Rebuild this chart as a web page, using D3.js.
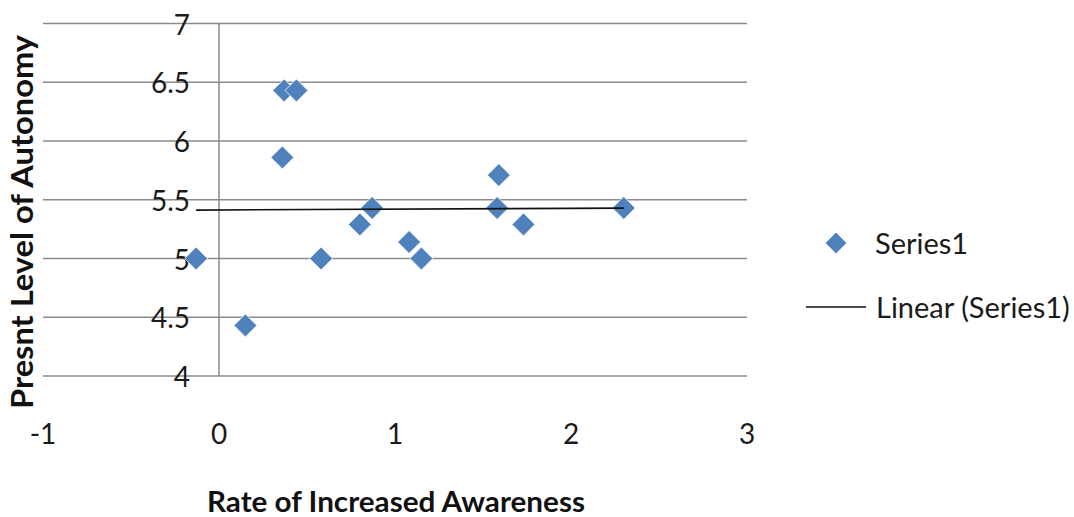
<!DOCTYPE html>
<html><head><meta charset="utf-8">
<script src="https://cdn.jsdelivr.net/npm/d3@7"></script>
<style>html,body{margin:0;padding:0;background:#fff;}</style>
</head><body>
<script>
const xValues = [-0.13, 0.15, 0.36, 0.37, 0.44, 0.58, 0.80, 0.87, 1.08, 1.15, 1.58, 1.59, 1.73, 2.30];
const yValues = [5.00, 4.43, 5.86, 6.43, 6.43, 5.00, 5.29, 5.43, 5.14, 5.00, 5.43, 5.71, 5.29, 5.43];
const xTicks = [-1, 0, 1, 2, 3];
const yTicks = [4, 4.5, 5, 5.5, 6, 6.5, 7];
const seriesName = "Series1";
const trendName = "Linear (Series1)";
const xTitle = "Rate of Increased Awareness";
const yTitle = "Presnt Level of Autonomy";

const W = 1074, H = 517;
const font = "Lato, 'Open Sans', sans-serif";
const svg = d3.select("body").append("svg").attr("width", W).attr("height", H)
  .style("background", "#fff");

const x = d3.scaleLinear().domain([-1, 3]).range([43, 747]);
const y = d3.scaleLinear().domain([4, 7]).range([376, 23.5]);
const grid = "#8a8a8a";

// horizontal gridlines
svg.append("g").selectAll("line").data(yTicks).join("line")
  .attr("x1", x(-1)).attr("x2", x(3))
  .attr("y1", d => y(d)).attr("y2", d => y(d))
  .attr("stroke", grid).attr("stroke-width", 1.5);

// vertical axis at x = 0
svg.append("line").attr("x1", x(0)).attr("x2", x(0))
  .attr("y1", y(7)).attr("y2", y(4)).attr("stroke", grid).attr("stroke-width", 1.5);

// y tick labels
svg.append("g").selectAll("text").data(yTicks).join("text")
  .attr("x", x(0) - 29).attr("y", d => y(d))
  .attr("text-anchor", "end").attr("dominant-baseline", "central")
  .attr("font-family", font).attr("font-size", 28).attr("fill", "#1a1a1a")
  .text(d => d);

// x tick labels
svg.append("g").selectAll("text").data(xTicks).join("text")
  .attr("x", d => x(d)).attr("y", 444)
  .attr("text-anchor", "middle")
  .attr("font-family", font).attr("font-size", 28).attr("fill", "#1a1a1a")
  .text(d => d);

// points
const pts = xValues.map((v, i) => ({x: v, y: yValues[i]}));
const diamond = d3.symbol().type(d3.symbolDiamond2).size(335);
svg.append("g").selectAll("path").data(pts).join("path")
  .attr("transform", d => `translate(${x(d.x)},${y(d.y)})`)
  .attr("d", diamond)
  .attr("fill", "#4f81bd").attr("stroke", "#ffffff").attr("stroke-width", 0.8);

// linear trendline (least squares)
const mx = d3.mean(xValues), my = d3.mean(yValues);
const slope = d3.sum(pts, d => (d.x - mx) * (d.y - my)) / d3.sum(pts, d => (d.x - mx) ** 2);
const icpt = my - slope * mx;
const [xmin, xmax] = d3.extent(xValues);
svg.append("line")
  .attr("x1", x(xmin)).attr("y1", y(icpt + slope * xmin))
  .attr("x2", x(xmax)).attr("y2", y(icpt + slope * xmax))
  .attr("stroke", "#111").attr("stroke-width", 1.6);

// axis titles
svg.append("text").attr("x", 396).attr("y", 512).attr("text-anchor", "middle")
  .attr("font-family", font).attr("font-weight", "bold").attr("font-size", 29)
  .attr("textLength", 378).attr("lengthAdjust", "spacingAndGlyphs")
  .attr("fill", "#111").text(xTitle);
svg.append("text").attr("transform", "translate(33,222) rotate(-90)")
  .attr("text-anchor", "middle")
  .attr("font-family", font).attr("font-weight", "bold").attr("font-size", 30)
  .attr("textLength", 374).attr("lengthAdjust", "spacingAndGlyphs")
  .attr("fill", "#111").text(yTitle);

// legend
svg.append("path").attr("transform", "translate(836,243)")
  .attr("d", d3.symbol().type(d3.symbolDiamond2).size(275))
  .attr("fill", "#4f81bd");
svg.append("text").attr("x", 875).attr("y", 254)
  .attr("font-family", font).attr("font-size", 29).attr("fill", "#1a1a1a").text(seriesName);
svg.append("line").attr("x1", 806).attr("x2", 866).attr("y1", 307).attr("y2", 307)
  .attr("stroke", "#111").attr("stroke-width", 1.6);
svg.append("text").attr("x", 876).attr("y", 318)
  .attr("font-family", font).attr("font-size", 29).attr("fill", "#1a1a1a").text(trendName);
</script>
</body></html>
